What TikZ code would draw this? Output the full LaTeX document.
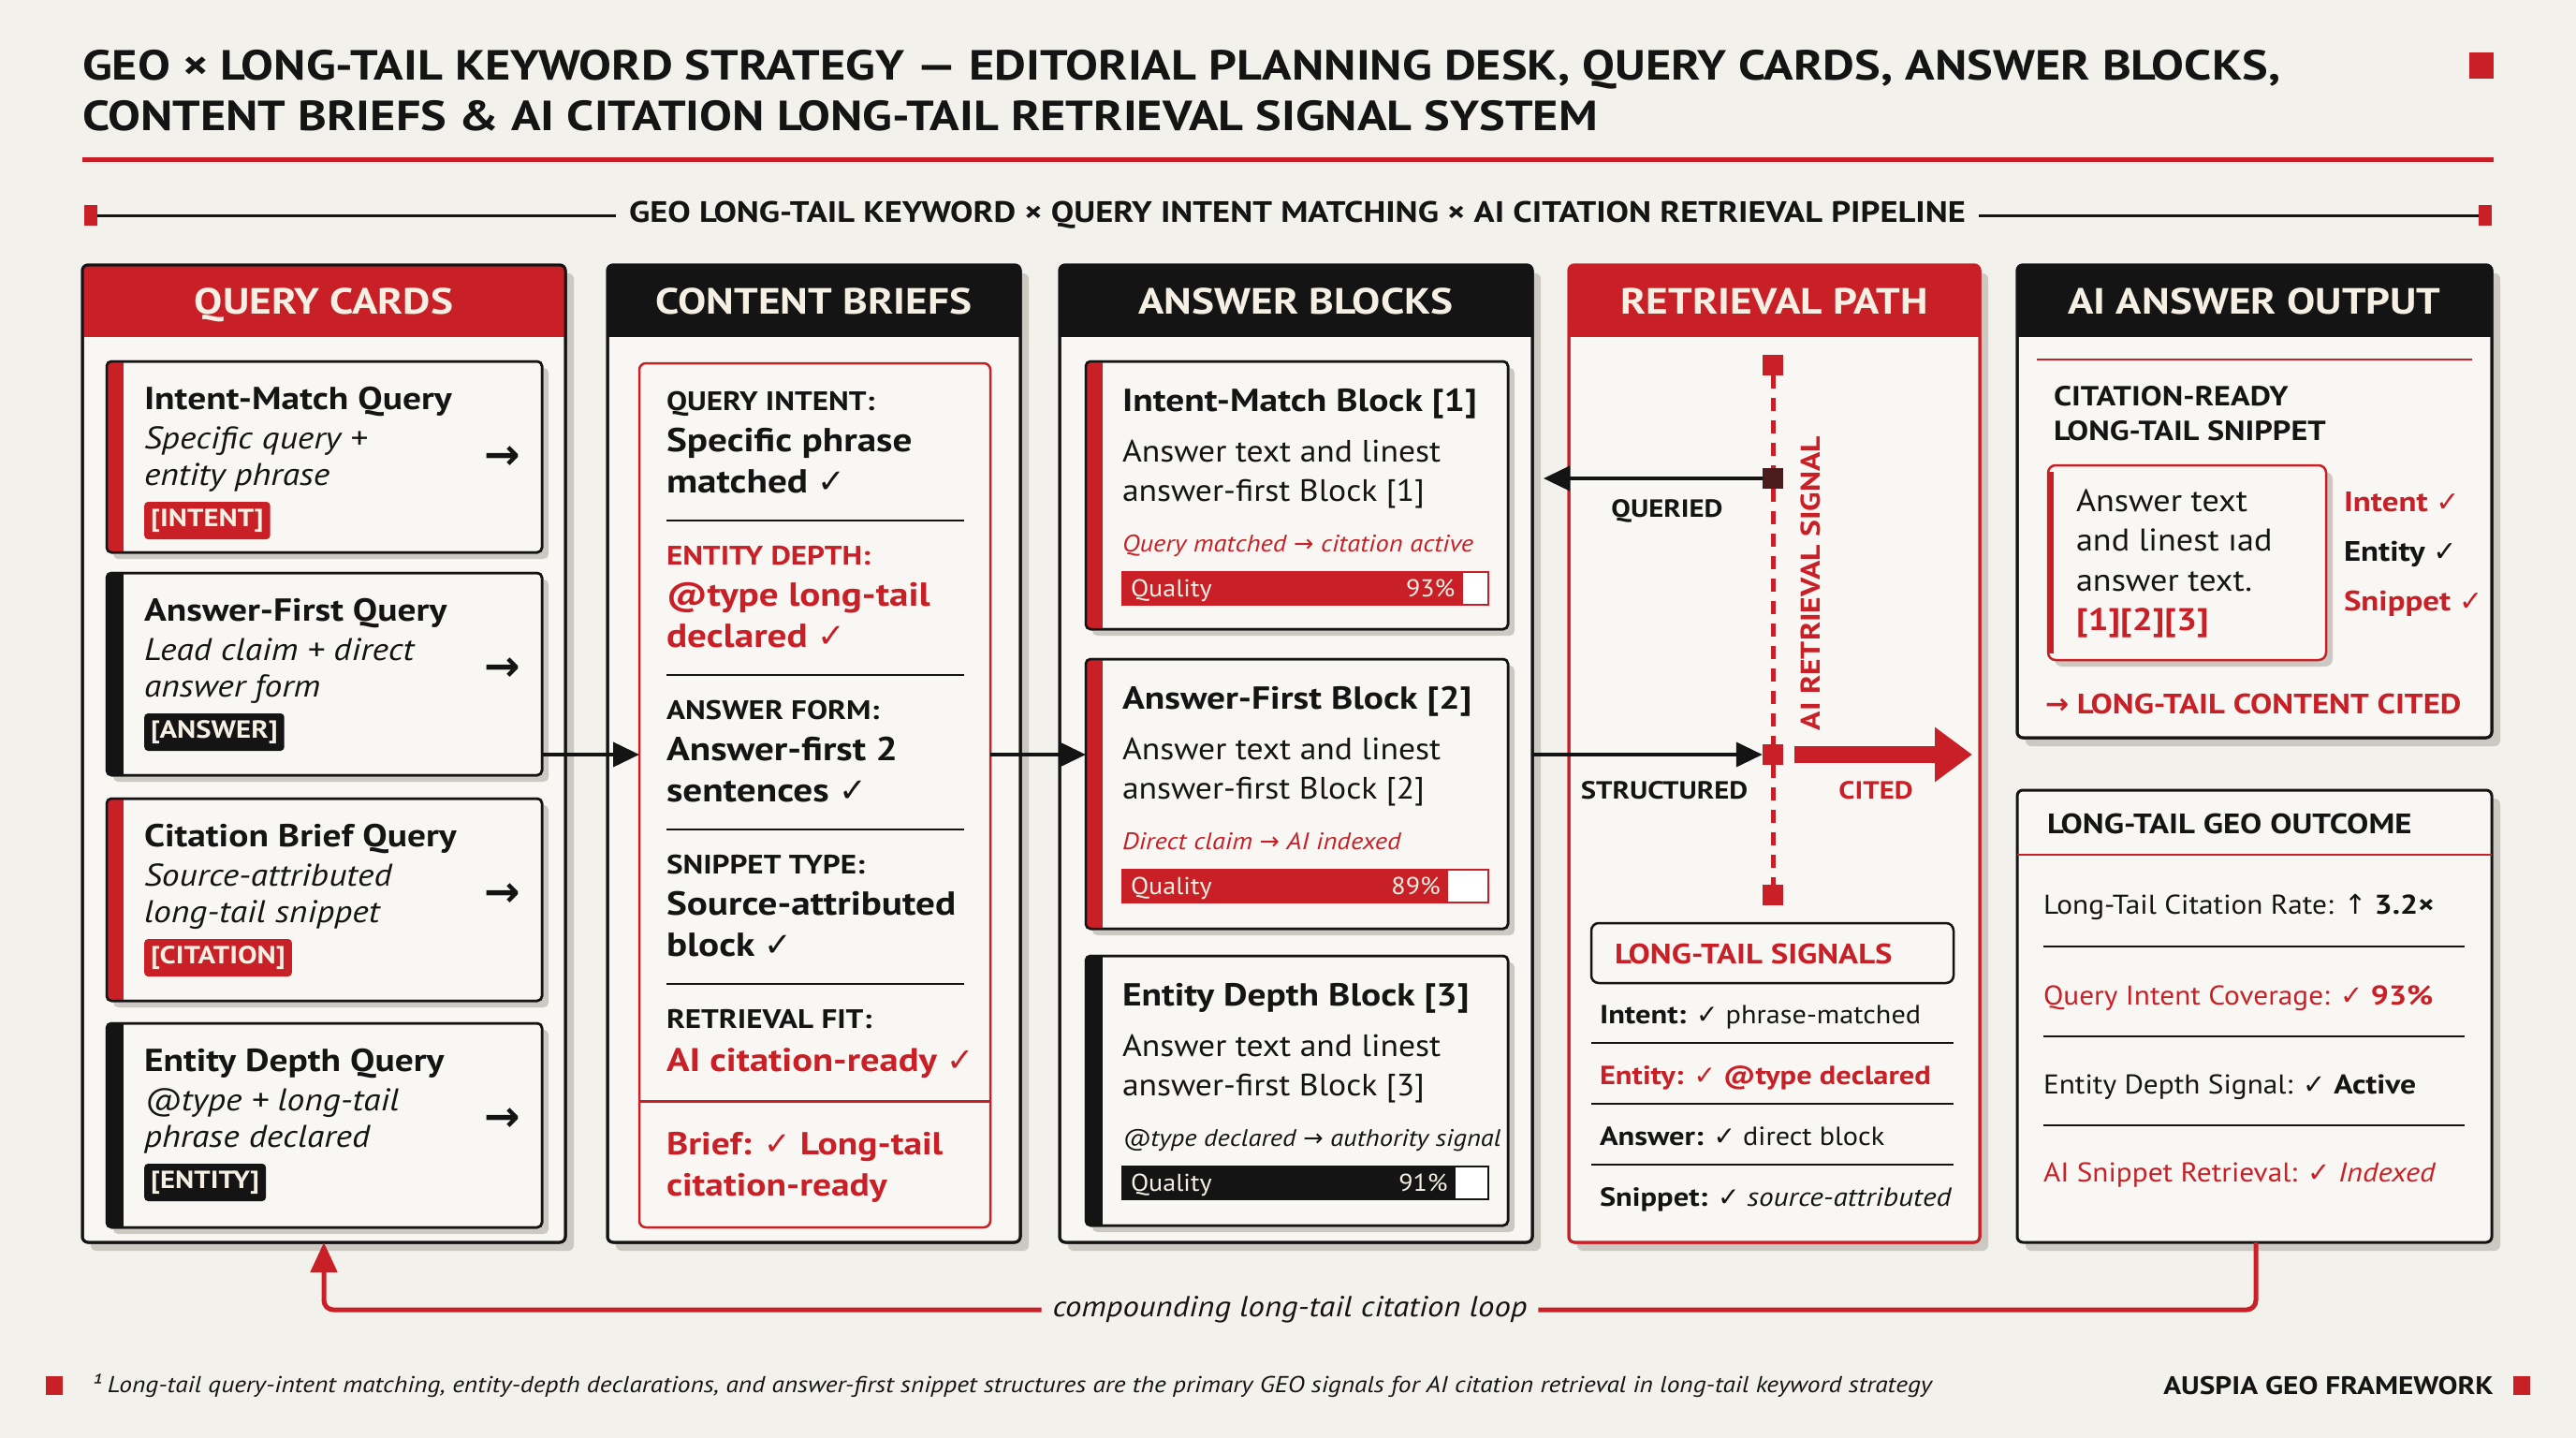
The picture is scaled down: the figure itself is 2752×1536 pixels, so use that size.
\documentclass[tikz,border=0pt]{standalone}
\usepackage{fontspec}
\setmainfont{PT Sans}[UprightFeatures={FakeStretch=1.08}, ItalicFeatures={FakeStretch=1.12}, BoldFeatures={FakeStretch=1.16}, BoldItalicFeatures={FakeStretch=1.16}]
\newfontfamily\symf{DejaVu Sans}
\usepackage{xcolor}
\usepackage{tikz}
\usetikzlibrary{arrows.meta, positioning, shadows, calc}
\definecolor{paper}{RGB}{243, 241, 236}
\definecolor{cardbg}{RGB}{248, 247, 243}
\definecolor{accent}{RGB}{200, 32, 38}
\definecolor{ink}{RGB}{20, 20, 20}
\definecolor{shade}{RGB}{204, 201, 194}
\definecolor{dotbrown}{RGB}{74, 28, 28}
\definecolor{cream}{RGB}{246, 240, 228}
\newcommand{\fz}[2]{\fontsize{#1}{#2}\selectfont}
\newcommand{\ck}{{\symf ✓}}
\newcommand{\arr}{{\symf →}}
\tikzset{
	panelbox/.style={anchor=north west, inner sep=0, outer sep=0, fill=cardbg, draw=ink, line width=3, rounded corners=6,
		drop shadow={shadow xshift=9pt, shadow yshift=-9pt, fill=shade, opacity=1}},
	cardbox/.style={anchor=north west, inner sep=0, outer sep=0, fill=cardbg, draw=ink, line width=2.5, rounded corners=5,
		drop shadow={shadow xshift=7pt, shadow yshift=-7pt, fill=shade, opacity=1}},
	txt/.style={anchor=base west, inner sep=0, outer sep=0, text=ink},
	headtext/.style={anchor=base, inner sep=0, text=cream, font=\fz{39}{44}\bfseries},
	tagbox/.style={anchor=west, fill=#1, text=cream, rounded corners=4, minimum height=40, inner xsep=7, inner ysep=0, font=\fz{26.5}{30}\bfseries},
	flow/.style={ink, line width=4, -{Triangle[length=28pt, width=26pt]}},
	sqr/.style={fill=#1, minimum size=22, inner sep=0},
	rule/.style={ink, line width=2},
}
% panel: name, x, y, w, h, frame, head, title
\newcommand{\mkpanel}[8]{%
	\node[panelbox, draw=#6, minimum width=#4, minimum height=#5] (#1) at (#2,#3) {};
	\begin{scope}
		\clip[rounded corners=6] (#1.north west) rectangle (#1.south east);
		\fill[#7] (#1.north west) rectangle ($(#1.north east)+(0,77)$);
	\end{scope}
	\draw[#6, line width=3, rounded corners=6] (#1.north west) rectangle (#1.south east);
	\node[headtext] (#1-t) at ($(#1.north)+(0,52)$) {#8};
}
% card: name, x, y, w, h, accent
\newcommand{\mkcard}[6]{%
	\node[cardbox, minimum width=#4, minimum height=#5] (#1) at (#2,#3) {};
	\begin{scope}
		\clip[rounded corners=5] (#1.north west) rectangle (#1.south east);
		\fill[#6] (#1.north west) rectangle ($(#1.south west)+(18,0)$);
	\end{scope}
	\draw[ink, line width=2.5, rounded corners=5] (#1.north west) rectangle (#1.south east);
}
% query card: name, top, height, accent, title, line a, line b, tag
\newcommand{\qcard}[8]{%
	\mkcard{#1}{114}{#2}{465}{#3}{#4}
	\node[txt, font=\fz{34}{40}\bfseries] (#1-h) at (154,#2+51) {#5};
	\node[txt, font=\fz{33.5}{36}\itshape] (#1-a) at (154,#2+93) {#6};
	\node[txt, font=\fz{33.5}{36}\itshape] (#1-b) at (154,#2+132) {#7};
	\node[tagbox=#4] (#1-g) at (154,#2+170) {#8};
	\node[font=\fz{46}{46}\bfseries\symf, text=ink, inner sep=0] (#1-r) at (537,#2+103) {→};
}
% answer block: name, top, height, accent, title, body, note, quality
\newcommand{\ablock}[8]{%
	\mkcard{#1}{1160}{#2}{451}{#3}{#4}
	\node[txt, font=\fz{34}{40}\bfseries] (#1-h) at (1199,#2+53) {#5};
	\node[txt, font=\fz{33}{38}] (#1-a) at (1199,#2+107) {Answer text and linest};
	\node[txt, font=\fz{33}{38}] (#1-b) at (1199,#2+149) {#6};
	\node[txt, text=#4, font=\fz{25.5}{30}\itshape] (#1-n) at (1199,#2+203) {#7};
	\draw[#4, line width=2, fill=white] (1199,#2+225) rectangle (1590,#2+260);
	\fill[#4] (1199,#2+225) rectangle (1199+3.91*#8,#2+260);
	\node[txt, text=cream, font=\fz{26}{28}] (#1-q) at (1208,#2+251) {Quality};
	\node[anchor=base east, inner sep=0, text=cream, font=\fz{26}{28}] (#1-p) at (1191+3.91*#8,#2+251) {#8\%};
}

\begin{document}
\begin{tikzpicture}[x=1pt, y=-1pt]
	\useasboundingbox (0,0) rectangle (2752,1536);
	\fill[paper] (0,0) rectangle (2752,1536);

	% title block
	\node[txt, font=\fz{45}{50}\bfseries] (title1) at (88,86) {GEO × LONG-TAIL KEYWORD STRATEGY — EDITORIAL PLANNING DESK, QUERY CARDS, ANSWER BLOCKS,};
	\node[txt, font=\fz{45}{50}\bfseries] (title2) at (88,140) {CONTENT BRIEFS \& AI CITATION LONG-TAIL RETRIEVAL SIGNAL SYSTEM};
	\node[fill=accent, minimum width=26, minimum height=28, inner sep=0] (tsq) at (2651,70) {};
	\draw[accent, line width=5] (88,170) -- (2664,170);

	\node[fill=accent, minimum width=14, minimum height=22, inner sep=0] (tickl) at (97,230) {};
	\node[fill=accent, minimum width=14, minimum height=22, inner sep=0] (tickr) at (2655,230) {};
	\node[fill=paper, inner xsep=14, inner ysep=0, text=ink, font=\fz{31.5}{36}\bfseries] (sub) at (1386,230) {GEO LONG-TAIL KEYWORD × QUERY INTENT MATCHING × AI CITATION RETRIEVAL PIPELINE};
	\draw[ink, line width=3] (tickl) -- (sub);
	\draw[ink, line width=3] (sub) -- (tickr);

	% columns
	\mkpanel{qc}{88}{283}{516}{1044}{ink}{accent}{QUERY CARDS}
	\mkpanel{cb}{649}{283}{441}{1044}{ink}{ink}{CONTENT BRIEFS}
	\mkpanel{abp}{1132}{283}{505}{1044}{ink}{ink}{ANSWER BLOCKS}
	\mkpanel{rp}{1676}{283}{439}{1044}{accent}{accent}{RETRIEVAL PATH}
	\mkpanel{ao}{2155}{283}{507}{505}{ink}{ink}{AI ANSWER OUTPUT}
	\node[panelbox, minimum width=507, minimum height=483] (out) at (2155,844) {};

	% query cards
	\qcard{q1}{386}{204}{accent}{Intent-Match Query}{Specific query +}{entity phrase}{[INTENT]}
	\qcard{q2}{612}{216}{ink}{Answer-First Query}{Lead claim + direct}{answer form}{[ANSWER]}
	\qcard{q3}{853}{216}{accent}{Citation Brief Query}{Source-attributed}{long-tail snippet}{[CITATION]}
	\qcard{q4}{1093}{218}{ink}{Entity Depth Query}{@type + long-tail}{phrase declared}{[ENTITY]}

	% content brief
	\node[draw=accent, line width=2.5, rounded corners=7, anchor=north west, minimum width=375, minimum height=923, inner sep=0, outer sep=0] (brief) at (683,388) {};
	\foreach \y/\lab/\va/\vb/\col [count=\i] in {428/QUERY INTENT:/Specific phrase/matched \ck/ink,
		593/ENTITY DEPTH:/@type long-tail/declared \ck/accent,
		758/ANSWER FORM:/Answer-first 2/sentences \ck/ink,
		923/SNIPPET TYPE:/Source-attributed/block \ck/ink}{
		\node[txt, text=\col, font=\fz{28.5}{30}\bfseries] (bl\i) at (712,\y+10) {\lab};
		\node[txt, text=\col, font=\fz{35.5}{38}\bfseries] (ba\i) at (712,\y+54) {\va};
		\node[txt, text=\col, font=\fz{35.5}{38}\bfseries] (bb\i) at (712,\y+98) {\vb};
		\draw[rule] (712,\y+128) -- (1030,\y+128);
	}
	\node[txt, font=\fz{28.5}{30}\bfseries] (bl5) at (712,1098) {RETRIEVAL FIT:};
	\node[txt, text=accent, font=\fz{35}{38}\bfseries] (ba5) at (712,1144) {AI citation-ready \ck};
	\draw[accent, line width=3] (brief.west |- 0,1176) -- (brief.east |- 0,1176);
	\node[txt, text=accent, font=\fz{34}{40}\bfseries] (bf1) at (712,1233) {Brief: \ck{} Long-tail};
	\node[txt, text=accent, font=\fz{34}{40}\bfseries] (bf2) at (712,1277) {citation-ready};

	% answer blocks
	\ablock{b1}{386}{286}{accent}{Intent-Match Block [1]}{answer-first Block [1]}{Query matched \arr{} citation active}{93}
	\ablock{b2}{704}{288}{accent}{Answer-First Block [2]}{answer-first Block [2]}{Direct claim \arr{} AI indexed}{89}
	\ablock{b3}{1021}{288}{ink}{Entity Depth Block [3]}{answer-first Block [3]}{@type declared \arr{} authority signal}{91}

	% flow between columns
	\coordinate (fl) at (0,806);
	\draw[flow] (q2.east |- fl) -- (brief.west |- fl);
	\draw[flow] (brief.east |- fl) -- (b2.west |- fl);

	% retrieval path
	\node[sqr=accent] (s1) at (1894,390) {};
	\node[sqr=dotbrown] (s2) at (1894,511) {};
	\node[sqr=accent] (s3) at (1894,806) {};
	\node[sqr=accent] (s4) at (1894,956) {};
	\draw[accent, line width=5, dash pattern=on 14pt off 10pt] (s1) -- (s2);
	\draw[accent, line width=5, dash pattern=on 14pt off 10pt] (s2) -- (s3);
	\draw[accent, line width=5, dash pattern=on 14pt off 10pt] (s3) -- (s4);
	\node[rotate=90, text=accent, font=\fz{29}{32}\bfseries, inner sep=0] (sig) at (1934,623) {AI RETRIEVAL SIGNAL};
	\draw[flow] (s2) -- ($(abp.east |- s2)+(12,0)$);
	\draw[flow] (abp.east |- s3) -- (s3);
	\coordinate (citend) at ($(rp.east |- s3)+(-8,0)$);
	\draw[accent, line width=18, -{Triangle[length=40pt, width=56pt]}] ($(s3.east)+(12,0)$) -- (citend);
	\node[text=ink, font=\fz{26.5}{30}\bfseries, inner sep=0] (qlab) at (1781,546) {QUERIED};
	\node[text=ink, font=\fz{26.5}{30}\bfseries, inner sep=0] (slab) at (1778,844) {STRUCTURED};
	\node[text=accent, font=\fz{26.5}{30}\bfseries, inner sep=0] (clab) at (2004,844) {CITED};

	\node[draw=ink, line width=2.5, rounded corners=8, anchor=north west, minimum width=387, minimum height=64, inner sep=0, outer sep=0] (lts) at (1700,986) {};
	\node[txt, text=accent, font=\fz{30}{32}\bfseries] (lts-t) at (1725,1029) {LONG-TAIL SIGNALS};
	\node[txt, font=\fz{28}{32}] (r1) at (1709,1093) {\textbf{Intent:} \ck{} phrase-matched};
	\node[txt, text=accent, font=\fz{28}{32}\bfseries] (r2) at (1709,1158) {Entity: \ck{} @type declared};
	\node[txt, font=\fz{28}{32}] (r3) at (1709,1223) {\textbf{Answer:} \ck{} direct block};
	\node[txt, font=\fz{28}{32}] (r4) at (1709,1288) {\textbf{Snippet:} \ck{} \textit{source-attributed}};
	\foreach \y in {1114,1179,1244}{
		\draw[rule] (lts.west |- 0,\y) -- (lts.east |- 0,\y);
	}

	% AI answer output
	\draw[accent, line width=2.5] (2176,384) -- (2641,384);
	\node[txt, font=\fz{29.5}{32}\bfseries] (cr1) at (2194,433) {CITATION-READY};
	\node[txt, font=\fz{29.5}{32}\bfseries] (cr2) at (2194,470) {LONG-TAIL SNIPPET};
	\node[draw=accent, fill=cardbg, line width=2.5, rounded corners=8, anchor=north west, minimum width=297, minimum height=208, inner sep=0, outer sep=0,
		drop shadow={shadow xshift=7pt, shadow yshift=-7pt, fill=shade, opacity=1}] (snip) at (2188,497) {};
	\draw[accent, line width=7] ($(snip.north west)+(2,7)$) -- ($(snip.south west)+(2,-7)$);
	\node[txt, font=\fz{33.5}{36}] (sn1) at (2218,546) {Answer text};
	\node[txt, font=\fz{33.5}{36}] (sn2) at (2218,588) {and linest ıad};
	\node[txt, font=\fz{33.5}{36}] (sn3) at (2218,631) {answer text.};
	\node[txt, text=accent, font=\fz{33.5}{36}\bfseries] (sn4) at (2218,673) {[1][2][3]};
	\node[txt, text=accent, font=\fz{30}{32}\bfseries] (k1) at (2504,546) {Intent \ck};
	\node[txt, font=\fz{30}{32}\bfseries] (k2) at (2504,599) {Entity \ck};
	\node[txt, text=accent, font=\fz{30}{32}\bfseries] (k3) at (2504,652) {Snippet \ck};
	\node[txt, text=accent, font=\fz{30}{32}\bfseries] (cited) at (2185,762) {\arr{} LONG-TAIL CONTENT CITED};

	% long-tail outcome
	\node[txt, font=\fz{30}{32}\bfseries] (out-t) at (2187,890) {LONG-TAIL GEO OUTCOME};
	\draw[accent, line width=2.5] ($(out.north west)+(0,69)$) -- ($(out.north east)+(0,69)$);
	\node[txt, font=\fz{29}{34}] (o1) at (2183,976) {Long-Tail Citation Rate: {\symf ↑} \textbf{3.2×}};
	\node[txt, text=accent, font=\fz{29}{34}] (o2) at (2183,1073) {Query Intent Coverage: \textbf{\ck{} 93\%}};
	\node[txt, font=\fz{29}{34}] (o3) at (2183,1168) {Entity Depth Signal: \ck{} \textbf{Active}};
	\node[txt, text=accent, font=\fz{29}{34}] (o4) at (2183,1262) {AI Snippet Retrieval: \ck{} \textit{Indexed}};
	\foreach \y in {1011,1107,1202}{
		\draw[rule] (2183,\y) -- (2633,\y);
	}

	% loop back
	\coordinate (lp) at (0,1399);
	\coordinate (lr) at ($(out.south west)+(255,0)$);
	\coordinate (ll) at ($(qc.south west)+(258,0)$);
	\draw[accent, line width=5, rounded corners=10, -{Triangle[length=32pt, width=28pt]}] (lr) -- (lr |- lp) -- node[fill=paper, text=ink, font=\fz{31}{34}\itshape, inner xsep=12, inner ysep=2] (loopt) {compounding long-tail citation loop} (ll |- lp) -- (ll);

	% footer
	\node[fill=accent, minimum width=18, minimum height=20, inner sep=0] (fsql) at (58,1480) {};
	\node[anchor=west, inner sep=0, text=ink, font=\fz{24.5}{28}\itshape] (foot) at (97,1480) {¹ Long-tail query-intent matching, entity-depth declarations, and answer-first snippet structures are the primary GEO signals for AI citation retrieval in long-tail keyword strategy};
	\node[fill=accent, minimum width=18, minimum height=20, inner sep=0] (fsqr) at (2694,1480) {};
	\node[anchor=east, inner sep=0, text=ink, font=\fz{27}{30}\bfseries] (brand) at (2664,1480) {AUSPIA GEO FRAMEWORK};
\end{tikzpicture}
\end{document}
